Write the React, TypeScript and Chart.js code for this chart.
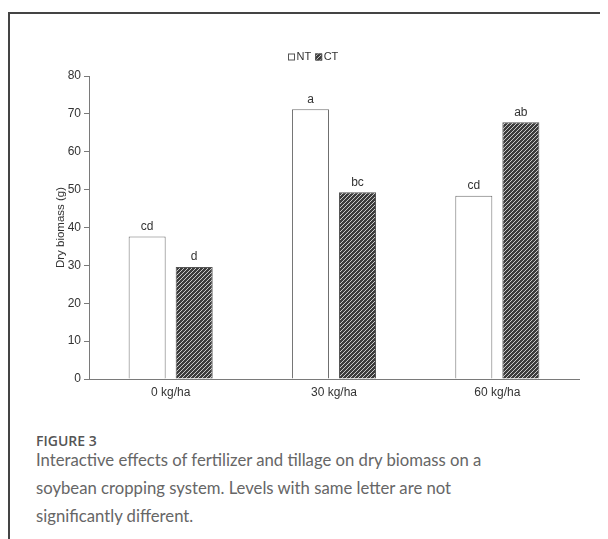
import React, { useEffect, useRef } from "react";
import { Chart, registerables } from "chart.js";

Chart.register(...registerables);

const categories = ["0 kg/ha", "30 kg/ha", "60 kg/ha"];
const seriesNames = ["NT", "CT"];
const ntValues = [37.6, 71.2, 48.4];
const ctValues = [29.6, 49.3, 67.8];
const ntLetters = ["cd", "a", "cd"];
const ctLetters = ["d", "bc", "ab"];
const yTicks = [0, 10, 20, 30, 40, 50, 60, 70, 80];
const yTitle = "Dry biomass (g)";
const figureLabel = "FIGURE 3";
const captionLines = [
  "Interactive effects of fertilizer and tillage on dry biomass on a",
  "soybean cropping system. Levels with same letter are not",
  "significantly different.",
];

const AXIS = "#7a7a7a";
const TEXT = "#333333";
const FONT = "'Liberation Sans', Arial, sans-serif";

function makeHatch(): CanvasPattern | string {
  const c = document.createElement("canvas");
  c.width = 4;
  c.height = 4;
  const g = c.getContext("2d");
  if (!g) return "#666";
  g.fillStyle = "#3c3c3c";
  g.fillRect(0, 0, 4, 4);
  g.strokeStyle = "#c8c8c8";
  g.lineWidth = 1;
  g.beginPath();
  g.moveTo(-1, 5);
  g.lineTo(5, -1);
  g.moveTo(-1, 1);
  g.lineTo(1, -1);
  g.moveTo(3, 5);
  g.lineTo(5, 3);
  g.stroke();
  const ctx = document.createElement("canvas").getContext("2d");
  const p = ctx ? ctx.createPattern(c, "repeat") : null;
  return p || "#666";
}

export default function App() {
  const ref = useRef<HTMLCanvasElement | null>(null);

  useEffect(() => {
    if (!ref.current) return;
    const hatch = makeHatch();
    const letters = [ntLetters, ctLetters];

    const extras = {
      id: "extras",
      afterDatasetsDraw(chart: any) {
        const ctx = chart.ctx;
        ctx.save();
        ctx.font = `12px ${FONT}`;
        ctx.fillStyle = TEXT;
        ctx.textAlign = "center";
        ctx.textBaseline = "bottom";
        chart.data.datasets.forEach((ds: any, di: number) => {
          const meta = chart.getDatasetMeta(di);
          meta.data.forEach((bar: any, i: number) => {
            ctx.fillText(letters[di][i], bar.x, bar.y - 4);
          });
        });
        // y title
        const ca = chart.chartArea;
        ctx.save();
        ctx.font = `11.5px ${FONT}`;
        ctx.translate(53, (ca.top + ca.bottom) / 2);
        ctx.rotate(-Math.PI / 2);
        ctx.textBaseline = "middle";
        ctx.fillText(yTitle, 0, 0);
        ctx.restore();
        // legend
        ctx.font = `11px ${FONT}`;
        ctx.textAlign = "left";
        ctx.textBaseline = "middle";
        const ly = 45;
        let lx = 280;
        chart.data.datasets.forEach((ds: any) => {
          ctx.fillStyle = ds.backgroundColor;
          ctx.fillRect(lx, ly - 3.5, 7, 7);
          ctx.strokeStyle = "#555";
          ctx.lineWidth = 1;
          ctx.strokeRect(lx + 0.5, ly - 3, 6, 6);
          ctx.fillStyle = TEXT;
          ctx.fillText(ds.label, lx + 8.5, ly);
          lx += 8.5 + ctx.measureText(ds.label).width + 4;
        });
        ctx.restore();
      },
    };

    const chart = new Chart(ref.current, {
      type: "bar",
      data: {
        labels: categories,
        datasets: [
          {
            label: seriesNames[0],
            data: ntValues,
            backgroundColor: "#ffffff",
            borderColor: "#6e6e6e",
            borderWidth: 1,
            categoryPercentage: 0.576,
            barPercentage: 0.787,
          },
          {
            label: seriesNames[1],
            data: ctValues,
            backgroundColor: hatch as any,
            borderColor: "#555555",
            borderWidth: 1,
            categoryPercentage: 0.576,
            barPercentage: 0.787,
          },
        ],
      },
      options: {
        animation: false,
        responsive: false,
        devicePixelRatio: 1,
        layout: { padding: { top: 64, left: 0, right: 29, bottom: 0 } },
        plugins: {
          legend: { display: false },
          tooltip: { enabled: false },
        },
        scales: {
          x: {
            grid: { display: false, drawTicks: false },
            border: { display: true, color: AXIS, width: 1 },
            ticks: { color: TEXT, font: { family: FONT, size: 12 }, padding: 6 },
            afterFit: (s: any) => {
              s.height = 33;
            },
          },
          y: {
            min: 0,
            max: 80,
            afterBuildTicks: (s: any) => {
              s.ticks = yTicks.map((v) => ({ value: v }));
            },
            grid: {
              display: true,
              drawOnChartArea: false,
              drawTicks: true,
              tickLength: 5,
              color: AXIS,
            },
            border: { display: true, color: AXIS, width: 1 },
            ticks: { color: TEXT, font: { family: FONT, size: 12 }, padding: 3 },
            afterFit: (s: any) => {
              s.width = 81;
            },
          },
        },
      },
      plugins: [extras],
    });
    return () => chart.destroy();
  }, []);

  return (
    <div style={{ position: "relative", width: 600, height: 531, overflow: "hidden" }}>
      <div
        style={{
          position: "absolute",
          left: 0,
          top: 4,
          width: 800,
          height: 800,
          borderLeft: "2px solid #444",
          borderTop: "2px solid #444",
          boxSizing: "border-box",
        }}
      />
      <canvas
        ref={ref}
        width={600}
        height={400}
        style={{ position: "absolute", left: 0, top: 4, width: 600, height: 400 }}
      />
      <div
        style={{
          position: "absolute",
          left: 28,
          top: 424,
          fontFamily: "'Open Sans', sans-serif",
          fontWeight: 600,
          fontSize: 14,
          color: "#555",
          lineHeight: "18px",
        }}
      >
        {figureLabel}
      </div>
      <div
        style={{
          position: "absolute",
          left: 28,
          top: 438,
          fontFamily: "Lato, sans-serif",
          fontSize: 16.7,
          color: "#666",
          lineHeight: "28px",
          whiteSpace: "nowrap",
        }}
      >
        {captionLines.map((l, i) => (
          <div key={i}>{l}</div>
        ))}
      </div>
    </div>
  );
}
